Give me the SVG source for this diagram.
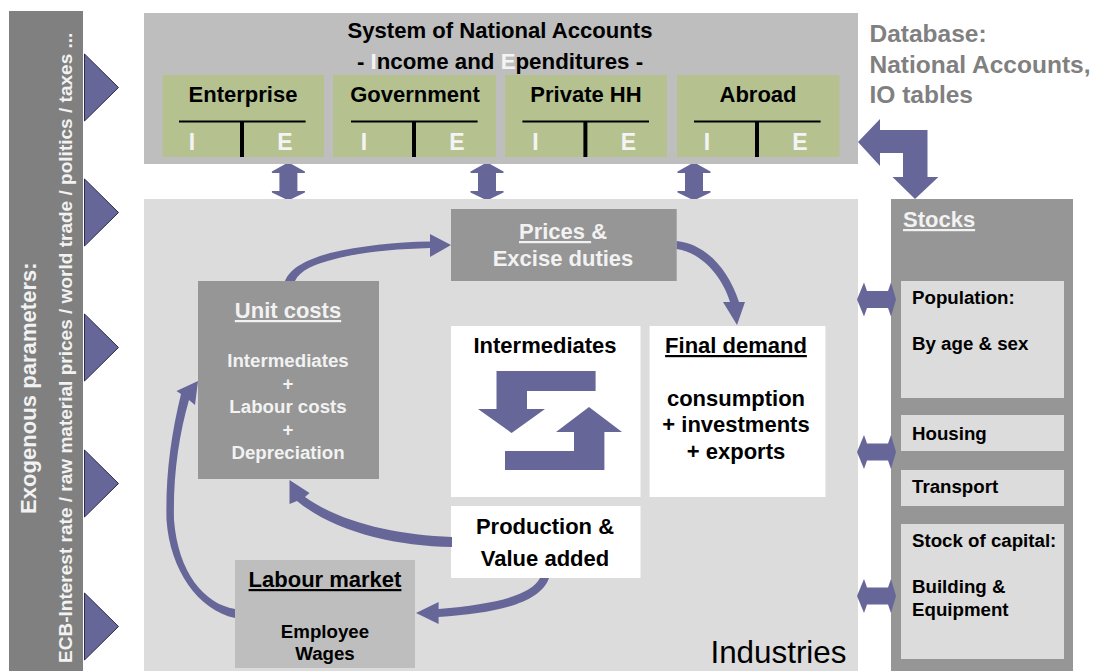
<svg xmlns="http://www.w3.org/2000/svg" width="1098" height="671" viewBox="0 0 1098 671">
<style>
text{font-family:"Liberation Sans",Arial,sans-serif;font-weight:bold;fill:#000}
.c{text-anchor:middle}
.h{font-size:22px}
.s{font-size:18.7px}
.w{fill:#f2f2f2}
.u{text-decoration:underline}
.ie{font-size:23px;fill:#f4f4f4}
.a{fill:#666699}
.tri{fill:#666699;stroke:#2b2b4d;stroke-width:1}
.green{fill:#b5c290}
.ln{stroke:#000;fill:none}
.mid{fill:#969696}
.lt{fill:#dcdcdc}
</style>
<defs>
<path id="vd" class="a" d="M-3,164 H3 L16.500,171.500 V173 H9 V191 H16.500 V192.500 L3,199 H-3 L-16.500,192.500 V191 H-9 V173 H-16.500 V171.500 Z"/>
<path id="hd" class="a" d="M857,0 L864,-17 L867,-8.500 H888 L891,-17 L896,0 L891,17 L888,8.500 H867 L864,17 Z"/>
<polygon id="tr" class="tri" points="84.500,0 118.500,33.500 84.500,67"/>
<g id="acct">
<path class="ln" stroke-width="2" d="M179,121.500 H305.600"/>
<path class="ln" stroke-width="4" d="M242,121 V157"/>
<text class="ie c" x="192" y="150">I</text>
<text class="ie c" x="285" y="150">E</text>
</g>
</defs>

<g id="exogenous">
<rect x="9" y="11" width="74" height="660" fill="#808080"/>
<text class="w" transform="translate(36,514) rotate(-90)" font-size="22.100">Exogenous parameters:</text>
<text class="w" transform="translate(72,663) rotate(-90)" font-size="19.050">ECB-Interest rate / raw material prices / world trade / politics / taxes ...</text>
<use href="#tr" y="54"/><use href="#tr" y="179"/><use href="#tr" y="314"/><use href="#tr" y="450"/><use href="#tr" y="593"/>
</g>

<g id="national-accounts">
<rect x="144" y="13" width="714" height="151" fill="#bebebe"/>
<text class="c" font-size="22.100" x="500" y="38">System of National Accounts</text>
<text class="c" font-size="22.300" x="500" y="69">- <tspan fill="#f4f4f4">I</tspan>ncome and <tspan fill="#f4f4f4">E</tspan>penditures -</text>
</g>
<g id="enterprise"><rect class="green" x="162.500" y="75" width="161.500" height="82"/><text class="h c" x="243" y="102">Enterprise</text><use href="#acct"/></g>
<g id="government"><rect class="green" x="333" y="75" width="163" height="82"/><text class="h c" x="415" y="102">Government</text><use href="#acct" x="172"/></g>
<g id="private-hh"><rect class="green" x="505" y="75" width="162" height="82"/><text class="h c" x="586" y="102">Private HH</text><use href="#acct" x="343.400"/></g>
<g id="abroad"><rect class="green" x="677" y="75" width="162.500" height="82"/><text class="h c" x="758" y="102">Abroad</text><use href="#acct" x="515"/></g>

<g id="database">
<text x="869.500" y="42" font-size="24.500" style="fill:#808080">Database:</text>
<text x="869.500" y="73" font-size="24.500" style="fill:#808080">National Accounts,</text>
<text x="869.500" y="103" font-size="24.500" style="fill:#808080">IO tables</text>
</g>

<g id="industries">
<rect class="lt" x="144" y="199" width="714" height="472"/>
<text x="846.500" y="663" font-size="31.400" text-anchor="end" style="font-weight:normal">Industries</text>
</g>
<g id="prices"><rect class="mid" x="451" y="209" width="225.700" height="72"/>
<text class="h c w" x="563" y="239"><tspan class="u">Prices </tspan>&amp;</text>
<text class="h c w" x="563" y="266">Excise duties</text></g>
<g id="unit-costs"><rect class="mid" x="198" y="281" width="181" height="198"/>
<text class="h c w u" x="288" y="318">Unit costs</text>
<text class="s c w" x="288" y="367">Intermediates</text>
<text class="s c w" x="288" y="390">+</text>
<text class="s c w" x="288" y="413">Labour costs</text>
<text class="s c w" x="288" y="436">+</text>
<text class="s c w" x="288" y="459">Depreciation</text></g>
<g id="intermediates"><rect x="451" y="326" width="189.500" height="171" fill="#fff"/>
<text class="h c" x="545" y="353">Intermediates</text>
<path class="a" d="M496.500,371 H595.600 V391 H527 V409 H545 L511.600,433 L478,409 H496.500 Z"/>
<path class="a" d="M505,451 H574 V432 H556 L589,407 L622,432 H604.400 V470 H505 Z"/></g>
<g id="final-demand"><rect x="649.600" y="326" width="175.800" height="171" fill="#fff"/>
<text class="h c u" x="736" y="353">Final demand</text>
<text class="h c" x="736" y="406">consumption</text>
<text class="h c" x="736" y="432">+ investments</text>
<text class="h c" x="736" y="459">+ exports</text></g>
<g id="production"><rect x="451" y="506" width="189.500" height="72" fill="#fff"/>
<text class="h c" x="545" y="534">Production &amp;</text>
<text class="h c" x="545" y="566">Value added</text></g>
<g id="labour-market"><rect x="235" y="560" width="180" height="108" fill="#bebebe"/>
<text class="h c u" x="325" y="587">Labour market</text>
<text class="s c" x="325" y="638">Employee</text>
<text class="s c" x="325" y="660">Wages</text></g>

<g id="stocks"><rect x="891" y="199" width="182" height="472" fill="#969696"/>
<text class="h w u" x="903" y="227">Stocks</text></g>
<g id="population"><rect class="lt" x="901" y="281" width="163" height="117"/>
<text class="s" x="912" y="304">Population:</text><text class="s" x="912" y="350">By age &amp; sex</text></g>
<g id="housing"><rect class="lt" x="901" y="415" width="163" height="36"/><text class="s" x="912" y="440">Housing</text></g>
<g id="transport"><rect class="lt" x="901" y="470" width="163" height="36"/><text class="s" x="912" y="493">Transport</text></g>
<g id="capital"><rect class="lt" x="901" y="524" width="163" height="135"/>
<text class="s" x="912" y="547">Stock of capital:</text>
<text class="s" x="912" y="593">Building &amp;</text>
<text class="s" x="912" y="616">Equipment</text></g>

<g id="connectors">
<use href="#vd" x="288.400"/><use href="#vd" x="487"/><use href="#vd" x="694"/>
<use href="#hd" y="299.500"/><use href="#hd" y="452"/><use href="#hd" y="596"/>
<path class="a" d="M858,142 L880,119 V130 H927.500 V177 H938.400 L915,199 L892.500,177 H903 V153 H880 V166 Z"/>
<path class="a" d="M285,281 C291,266 312,258 330,253 C360,246 395,242 430,241.500 V234 L451,245 L430,257 V248 C395,249 362,252 335,259 C315,264 300,270 295,281 Z"/>
<path class="a" d="M676.700,241 C705,244 728,268 739,302 H745 L737,325 L723,302 H730 C722,275 700,252 676.700,249 Z"/>
<path class="a" d="M452,537 C395,535 340,522 305,497 L309.500,493 L289.500,480 V504 L297,501 C335,532 395,546 452,547 Z"/>
<path class="a" d="M540,578 C530,596 495,604 438.600,609 V602 L416,613 L438.600,624 V617 C495,613 540,604 549,578 Z"/>
<path class="a" d="M235,609 C204,604 178,572 174,520 C173,475 179,435 189,400 L195,405 L198,381 L176.500,391 L181,394 C171,435 165.500,475 166.500,520 C170,570 198,610 235,618 Z"/>
</g>
</svg>
